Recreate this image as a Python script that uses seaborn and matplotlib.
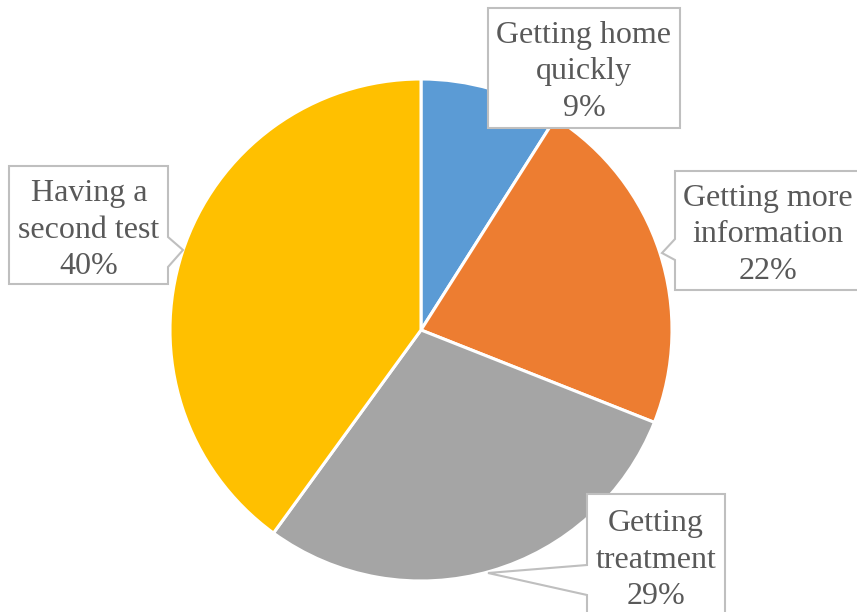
import matplotlib
matplotlib.use("Agg")
import matplotlib.pyplot as plt
from matplotlib.patches import Polygon
import seaborn as sns

# Reasons given, share of respondents (%)
categories = ["Getting home quickly", "Getting more information",
              "Getting treatment", "Having a second test"]
label_text = ["Getting home\nquickly", "Getting more\ninformation",
              "Getting\ntreatment", "Having a\nsecond test"]
values = [9, 22, 29, 40]
colors = ["#5B9BD5", "#ED7D31", "#A5A5A5", "#FFC000"]

sns.set_theme(style="white")
plt.rcParams["font.family"] = ["Liberation Serif", "DejaVu Serif"]

W, H = 857, 612
fig = plt.figure(figsize=(W / 100, H / 100), dpi=100)
ax = fig.add_axes([0, 0, 1, 1])
ax.set_xlim(0, W)
ax.set_ylim(H, 0)
ax.set_aspect("equal")
ax.axis("off")

# Pie drawn clockwise from 12 o'clock (y axis is inverted, so angles flip)
ax.pie(values, colors=colors, center=(421, 330), radius=251,
       startangle=-90, counterclock=True,
       wedgeprops=dict(edgecolor="white", linewidth=2.2))
ax.set_xlim(0, W)
ax.set_ylim(H, 0)

# Callout boxes: outline (with pointer) and text centre
callouts = [
    ([(488, 8), (680, 8), (680, 128), (488, 128)], (584, 72)),
    ([(675, 171), (865, 171), (865, 290), (675, 290), (675, 260),
      (662, 253), (675, 239)], (768, 235)),
    ([(587, 494), (725, 494), (725, 630), (587, 630), (587, 595),
      (488, 573), (587, 565)], (656, 560)),
    ([(9, 166), (168, 166), (168, 237), (183, 250), (168, 267),
      (168, 284), (9, 284)], (89, 230)),
]

for (outline, (tx, ty)), lab, v in zip(callouts, label_text, values):
    ax.add_patch(Polygon(outline, closed=True, facecolor="white",
                         edgecolor="#BFBFBF", linewidth=1.5, zorder=5))
    ax.text(tx, ty, f"{lab}\n{v}%", ha="center", va="center",
            fontsize=23, color="#595959", linespacing=1.36, zorder=6)

fig.savefig("out.png", dpi=100)
